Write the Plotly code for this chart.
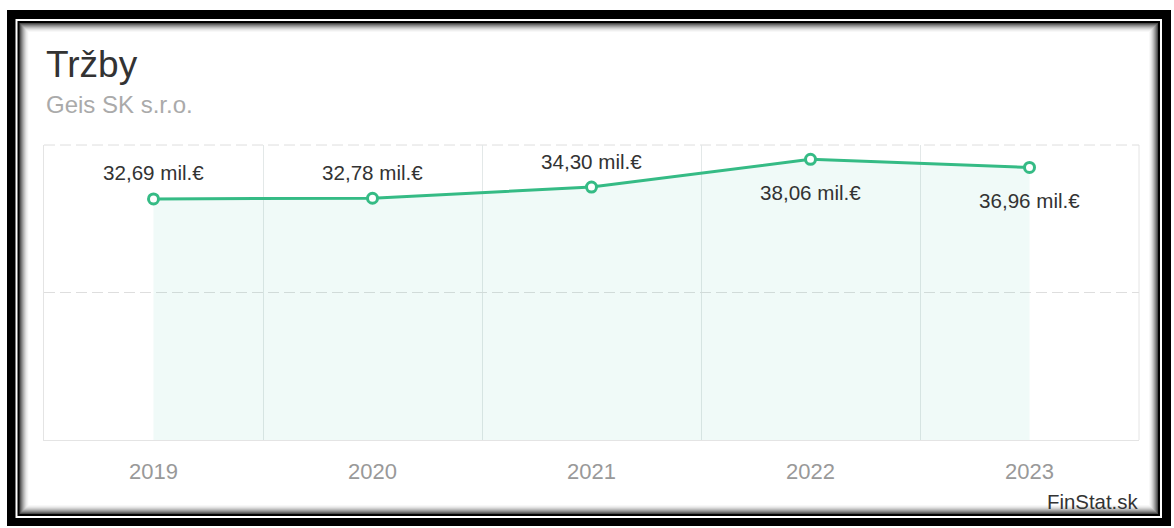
import plotly.graph_objects as go

years = [2019, 2020, 2021, 2022, 2023]
revenue = [32.69, 32.78, 34.30, 38.06, 36.96]
label_above = [True, True, True, False, False]
title_text = "Tržby"
subtitle_text = "Geis SK s.r.o."
source_text = "FinStat.sk"

W, H = 1174, 528
L, R, T, B = 44, 35, 145, 88
PW, PH = W - L - R, H - T - B

def px(x):
    return (x - L) / PW

def py(y):
    return (H - B - y) / PH

FONT = "Liberation Sans"
GREEN = "#35bb85"
GRID_DASH = "11px,5px"

fig = go.Figure()
fig.add_trace(go.Scatter(
    x=years, y=revenue, mode="lines+markers",
    line=dict(color=GREEN, width=3),
    marker=dict(size=10, color="white", line=dict(color=GREEN, width=3)),
    fill="tozeroy", fillcolor="rgba(40,180,150,0.07)",
    hoverinfo="skip", showlegend=False,
))

def fmt(v):
    return f"{v:.2f}".replace(".", ",") + " mil.€"

for x, v, above in zip(years, revenue, label_above):
    fig.add_annotation(x=x, y=v, xref="x", yref="y", text=fmt(v), showarrow=False,
                       yanchor="middle", xanchor="center", yshift=26 if above else -33,
                       font=dict(family=FONT, size=20.6, color="#333333"))

# frame and shadow (photo border)
shapes = []
def rect(x0, y0, x1, y1, color):
    shapes.append(dict(type="rect", xref="paper", yref="paper",
                       x0=px(x0), x1=px(x1), y0=py(y1), y1=py(y0),
                       fillcolor=color, line=dict(width=0), layer="below"))
rect(7, 10, 1171, 526, "#000000")
rect(15.5, 19, 1162, 518, "#ffffff")
rect(17.5, 21, 1160, 516, "#000000")
grads = ["#4a4a4a", "#6a6a6a", "#888888", "#a2a2a2", "#bbbbbb", "#d0d0d0", "#e2e2e2", "#efefef", "#f8f8f8", "#ffffff"]
for i, c in enumerate(grads):
    rect(19.5 + i, 23 + i, 1158 - i, 514 - i, c)
# plot frame: right solid edge, top dashed edge
shapes.append(dict(type="line", xref="paper", yref="paper", x0=1, x1=1, y0=0, y1=1,
                   line=dict(color="#e4e4e4", width=1), layer="below"))
shapes.append(dict(type="line", xref="paper", yref="paper", x0=0, x1=1, y0=1, y1=1,
                   line=dict(color="#dedede", width=1, dash=GRID_DASH), layer="below"))
fig.update_layout(shapes=shapes)

fig.add_annotation(x=px(44), y=py(64), xref="paper", yref="paper", text=title_text,
                   showarrow=False, xanchor="left", yanchor="middle",
                   font=dict(family=FONT, size=37, color="#333333"))
fig.add_annotation(x=px(44), y=py(104), xref="paper", yref="paper", text=subtitle_text,
                   showarrow=False, xanchor="left", yanchor="middle",
                   font=dict(family=FONT, size=24, color="#aaaaaa"))
fig.add_annotation(x=px(1140), y=py(502), xref="paper", yref="paper", text=source_text,
                   showarrow=False, xanchor="right", yanchor="middle",
                   font=dict(family=FONT, size=20.4, color="#333333"))

fig.update_xaxes(
    range=[2018.5, 2023.5], tickmode="array", tickvals=years, ticktext=[str(y) for y in years],
    showgrid=False, zeroline=False, showline=True, linecolor="#e4e4e4", linewidth=1,
    ticks="", ticklabelstandoff=12,
    tickfont=dict(family=FONT, size=22, color="#999999"),
    minor=dict(tickmode="linear", tick0=2018.5, dtick=1, showgrid=True, gridcolor="#e3e8e8", gridwidth=1, ticks=""),
    fixedrange=True,
)
fig.update_yaxes(
    range=[0, 40], tickmode="linear", tick0=0, dtick=20, showticklabels=False,
    showgrid=True, gridcolor="#dedede", griddash=GRID_DASH, gridwidth=1,
    zeroline=False, showline=True, mirror=False, linecolor="#e4e4e4", linewidth=1,
    ticks="", fixedrange=True,
)
fig.update_layout(
    width=W, height=H, margin=dict(l=L, r=R, t=T, b=B),
    paper_bgcolor="white", plot_bgcolor="rgba(0,0,0,0)",
    font=dict(family=FONT), showlegend=False,
)
fig.write_html("out.html", config={"displayModeBar": False})
